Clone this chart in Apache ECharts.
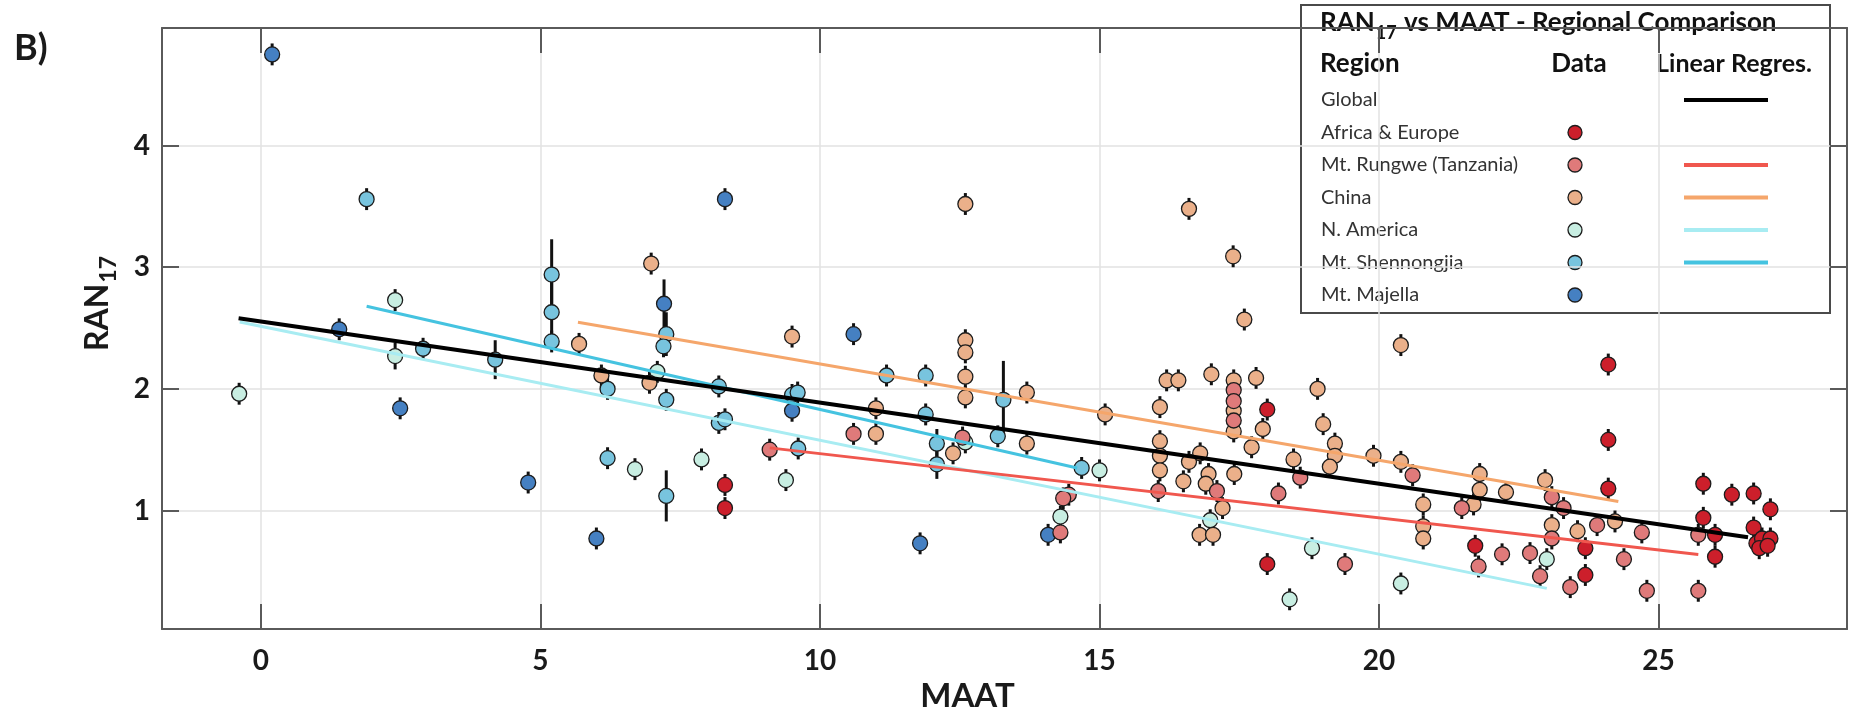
<!DOCTYPE html>
<html><head><meta charset="utf-8">
<script src="https://cdn.jsdelivr.net/npm/echarts@6/dist/echarts.min.js"></script>
<style>html,body{margin:0;padding:0;background:#fff}#c{width:1860px;height:718px}</style>
</head><body><div id="c"></div>
<script>
// ---------- data ----------
const xTicks = [0, 5, 10, 15, 20, 25];
const yTicks = [1, 2, 3, 4];
const xRange = [-1.77, 28.37];
const yRange = [0.025, 4.967];

// [MAAT, RAN17, (optional error half-width)]
const africaEurope = [[8.3,1.21],[8.3,1.02],[18.0,1.83],[18.0,0.56],[21.72,0.71],[23.69,0.69],[23.69,0.47],[24.1,2.2],[24.1,1.58],[24.1,1.18],[25.8,1.22],[25.8,0.94],[26.01,0.8],[26.01,0.62],[26.31,1.13],[26.7,1.14],[27.0,1.01],[26.7,0.86],[26.75,0.73],[26.85,0.77],[27.0,0.77],[26.8,0.69],[26.95,0.71]];
const mtRungwe = [[9.1,1.5],[10.6,1.63],[12.55,1.6],[14.45,1.13],[14.35,1.1],[14.3,0.82],[16.05,1.16],[17.1,1.16],[17.4,1.99],[17.4,1.9],[17.4,1.74],[18.2,1.14],[18.59,1.27],[19.39,0.56],[20.6,1.29],[21.48,1.02],[21.78,0.54],[22.2,0.64],[22.7,0.65],[23.09,1.11],[23.3,1.02],[23.09,0.77],[22.88,0.46],[23.42,0.37],[23.9,0.88],[24.38,0.6],[24.7,0.82],[24.79,0.34],[25.71,0.8],[25.71,0.34]];
const china = [[5.69,2.37],[6.98,3.03],[6.09,2.11],[6.95,2.05],[9.5,2.43],[12.6,3.52],[12.6,2.4],[12.6,2.3],[12.6,2.1],[12.6,1.93],[11.0,1.84],[11.0,1.63],[12.38,1.47],[13.7,1.97],[13.7,1.55],[15.1,1.79],[16.6,3.48],[17.39,3.09],[17.59,2.57],[20.39,2.36],[16.2,2.07],[16.41,2.07],[17.0,2.12],[17.8,2.09],[17.4,2.07],[17.4,1.82],[17.4,1.65],[16.08,1.85],[17.92,1.67],[17.72,1.52],[18.9,2.0],[19.0,1.71],[19.21,1.55],[19.21,1.45],[19.12,1.36],[16.08,1.57],[16.08,1.45],[16.08,1.33],[16.6,1.4],[16.8,1.47],[16.5,1.24],[16.95,1.3],[16.9,1.22],[17.2,1.02],[17.41,1.3],[16.79,0.8],[17.03,0.8],[18.47,1.42],[19.9,1.45],[20.39,1.4],[20.79,1.05],[20.79,0.87],[20.79,0.77],[21.8,1.3],[21.8,1.17],[21.69,1.05],[22.27,1.15],[22.97,1.25],[23.09,0.88],[23.55,0.83],[24.22,0.91]];
const nAmerica = [[-0.39,1.96],[2.4,2.73],[2.4,2.27,0.11],[6.69,1.34],[7.09,2.14],[7.88,1.42],[9.39,1.25],[12.6,1.56],[14.3,0.95],[15.0,1.33],[16.98,0.92],[18.4,0.27],[18.8,0.69],[20.39,0.4],[23.0,0.6]];
const mtShennongjia = [[1.89,3.56],[2.9,2.33],[4.19,2.24,0.16],[5.2,2.94,0.29],[5.2,2.63,0.25],[5.2,2.39],[6.2,2.0],[6.2,1.43],[7.25,2.45,0.18],[7.2,2.35],[7.25,1.91],[7.25,1.12,0.21],[8.19,2.02],[8.19,1.72],[8.3,1.75],[9.5,1.95],[9.6,1.97],[9.61,1.51],[11.19,2.11],[11.89,2.11],[11.89,1.79],[12.09,1.55,0.12],[12.09,1.38,0.12],[13.28,1.91,0.32],[13.18,1.61],[14.68,1.35]];
const mtMajella = [[0.2,4.75],[1.4,2.49],[2.49,1.84],[4.78,1.23],[6.0,0.77],[7.21,2.7,0.2],[8.3,3.56],[9.5,1.82],[10.6,2.45],[11.79,0.73],[14.08,0.8]];
const defaultErr = 0.09;

// linear regression end points
const regGlobal = [[-0.4,2.58],[26.6,0.78]];
const regRungwe = [[9.1,1.515],[25.71,0.638]];
const regChina = [[5.67,2.548],[24.28,1.074]];
const regNAmerica = [[-0.38,2.55],[23.0,0.36]];
const regShennongjia = [[1.89,2.68],[14.6,1.35]];

// ---------- styles ----------
const FONT = 'Lato, "Open Sans", sans-serif';
const C = {
  africa: '#cc1f2b', rungwe: '#df7a7a', china: '#ebb08a', namerica: '#c8eee2',
  shenn: '#78c4de', majella: '#4580c2',
  lGlobal: '#000000', lRungwe: '#f0574e', lChina: '#f5a66b', lNAm: '#a8ecf2', lShenn: '#45c3e0'
};
const regions = [
  {name:'Global', dot:null, line:C.lGlobal},
  {name:'Africa & Europe', dot:C.africa, line:null},
  {name:'Mt. Rungwe (Tanzania)', dot:C.rungwe, line:C.lRungwe},
  {name:'China', dot:C.china, line:C.lChina},
  {name:'N. America', dot:C.namerica, line:C.lNAm},
  {name:'Mt. Shennongjia', dot:C.shenn, line:C.lShenn},
  {name:'Mt. Majella', dot:C.majella, line:null}
];

const pointSets = [
  {data: mtMajella, color: C.majella},
  {data: mtShennongjia, color: C.shenn},
  {data: nAmerica, color: C.namerica},
  {data: china, color: C.china},
  {data: mtRungwe, color: C.rungwe},
  {data: africaEurope, color: C.africa}
];
const lineSets = [
  {data: regNAmerica, color: C.lNAm, w: 3},
  {data: regShennongjia, color: C.lShenn, w: 3},
  {data: regChina, color: C.lChina, w: 3},
  {data: regRungwe, color: C.lRungwe, w: 3},
  {data: regGlobal, color: C.lGlobal, w: 4}
];

const errData = [];
pointSets.forEach(s => s.data.forEach(p => errData.push([p[0], p[1], p[2] != null ? p[2] : defaultErr])));

const axisCol = '#5a5a5a';
function xAx(pos, main) {
  return {
    type:'value', position:pos, min:xRange[0], max:xRange[1],
    axisLine:{show:true, onZero:false, lineStyle:{color:axisCol, width:2}},
    axisTick:{show:true, inside:true, length:25, lineStyle:{color:axisCol, width:2}, customValues:xTicks},
    axisLabel: main ? {show:true, customValues:xTicks, fontFamily:FONT, fontWeight:'bold', fontSize:28, color:'#1a1a1a', margin:18} : {show:false},
    splitLine: main ? {show:true, lineStyle:{color:'#e2e2e2', width:1.5}} : {show:false},
    name: main ? '{m|MAAT}' : '', nameLocation:'middle', nameGap:27,
    nameTextStyle:{rich:{m:{fontFamily:FONT, fontWeight:'bold', fontSize:33, color:'#1a1a1a', padding:[0,74,0,0]}}}
  };
}
function yAx(pos, main) {
  return {
    type:'value', position:pos, min:yRange[0], max:yRange[1],
    axisLine:{show:true, onZero:false, lineStyle:{color:axisCol, width:2}},
    axisTick:{show:true, inside:true, length:17, lineStyle:{color:axisCol, width:2}, customValues:yTicks},
    axisLabel: main ? {show:true, customValues:yTicks, fontFamily:FONT, fontWeight:'bold', fontSize:28, color:'#1a1a1a', margin:12} : {show:false},
    splitLine: main ? {show:true, lineStyle:{color:'#e2e2e2', width:1.5}} : {show:false},
    name: main ? '{a|RAN}{b|17}' : '', nameLocation:'middle', nameRotate:90, nameGap:46,
    nameTextStyle:{rich:{
      a:{fontFamily:FONT, fontWeight:'bold', fontSize:32, color:'#1a1a1a', lineHeight:34, verticalAlign:'top', padding:[0,0,0,50]},
      b:{fontFamily:FONT, fontWeight:'bold', fontSize:23, color:'#1a1a1a', lineHeight:24, verticalAlign:'top', padding:[15,0,0,1]}
    }}
  };
}

const series = [];
series.push({
  type:'custom', coordinateSystem:'cartesian2d', xAxisIndex:0, yAxisIndex:0, z:1, silent:true,
  data: errData, encode:{x:0, y:1},
  renderItem: function(params, api) {
    const x = api.value(0), y = api.value(1), e = api.value(2);
    const a = api.coord([x, y - e]), b = api.coord([x, y + e]);
    return {type:'line', shape:{x1:a[0], y1:a[1], x2:b[0], y2:b[1]}, style:{stroke:'#111', lineWidth:3}};
  }
});
pointSets.forEach(s => series.push({
  type:'scatter', xAxisIndex:0, yAxisIndex:0, z:2, silent:true,
  data: s.data.map(p => [p[0], p[1]]), symbol:'circle', symbolSize:15,
  itemStyle:{color:s.color, borderColor:'#1c1c1c', borderWidth:1.3, opacity:1}
}));
lineSets.forEach(s => series.push({
  type:'line', xAxisIndex:0, yAxisIndex:0, z:3, silent:true, data:s.data, showSymbol:false,
  lineStyle:{color:s.color, width:s.w}, animation:false
}));

// ---------- legend box as graphic ----------
const LX = 1301, LY = 5, LW = 529, LH = 308;
const legendEls = [
  {type:'rect', shape:{x:LX, y:LY, width:LW, height:LH}, style:{fill:'#fff', stroke:'#4a4a4a', lineWidth:2}},
  {type:'text', x:1320, y:27, style:{text:'{t|RAN}{s|17}{t| vs MAAT - Regional Comparison}', verticalAlign:'middle', align:'left',
    rich:{t:{fontFamily:FONT, fontWeight:'bold', fontSize:26, fill:'#111', lineHeight:30, verticalAlign:'bottom', padding:[0,0,6,0]},
          s:{fontFamily:FONT, fontWeight:'bold', fontSize:18, fill:'#111', lineHeight:20, verticalAlign:'bottom', padding:[0,1,0,1]}}}},
  {type:'text', x:1320, y:64, style:{text:'Region', font:'bold 26px ' + FONT, fill:'#111', verticalAlign:'middle', align:'left'}},
  {type:'text', x:1579, y:64, style:{text:'Data', font:'bold 26px ' + FONT, fill:'#111', verticalAlign:'middle', align:'center'}},
  {type:'text', x:1734, y:64, style:{text:'Linear Regres.', font:'bold 25px ' + FONT, fill:'#111', verticalAlign:'middle', align:'center'}}
];
regions.forEach((r, i) => {
  const y = 100 + i * 32.5;
  legendEls.push({type:'text', x:1321, y:y, style:{text:r.name, font:'20px ' + FONT, fill:'#333', verticalAlign:'middle', align:'left'}});
  if (r.dot) legendEls.push({type:'circle', shape:{cx:1575, cy:y, r:7}, style:{fill:r.dot, stroke:'#1c1c1c', lineWidth:1.3}});
  if (r.line) legendEls.push({type:'line', shape:{x1:1684, y1:y, x2:1768, y2:y}, style:{stroke:r.line, lineWidth:4}});
});

const option = {
  animation:false,
  backgroundColor:'#ffffff',
  grid:{left:162, right:13, top:28, bottom:85, containLabel:false},
  xAxis:[xAx('bottom', true), xAx('top', false)],
  yAxis:[yAx('left', true), yAx('right', false)],
  series: series,
  graphic:[
    {type:'text', x:14, y:48, z:100, style:{text:'B)', font:'bold 36px ' + FONT, fill:'#1a1a1a', verticalAlign:'middle', align:'left'}},
    {type:'group', z:100, children: legendEls}
  ]
};
const chart = echarts.init(document.getElementById('c'), null, {renderer:'canvas'});
chart.setOption(option);
</script></body></html>
